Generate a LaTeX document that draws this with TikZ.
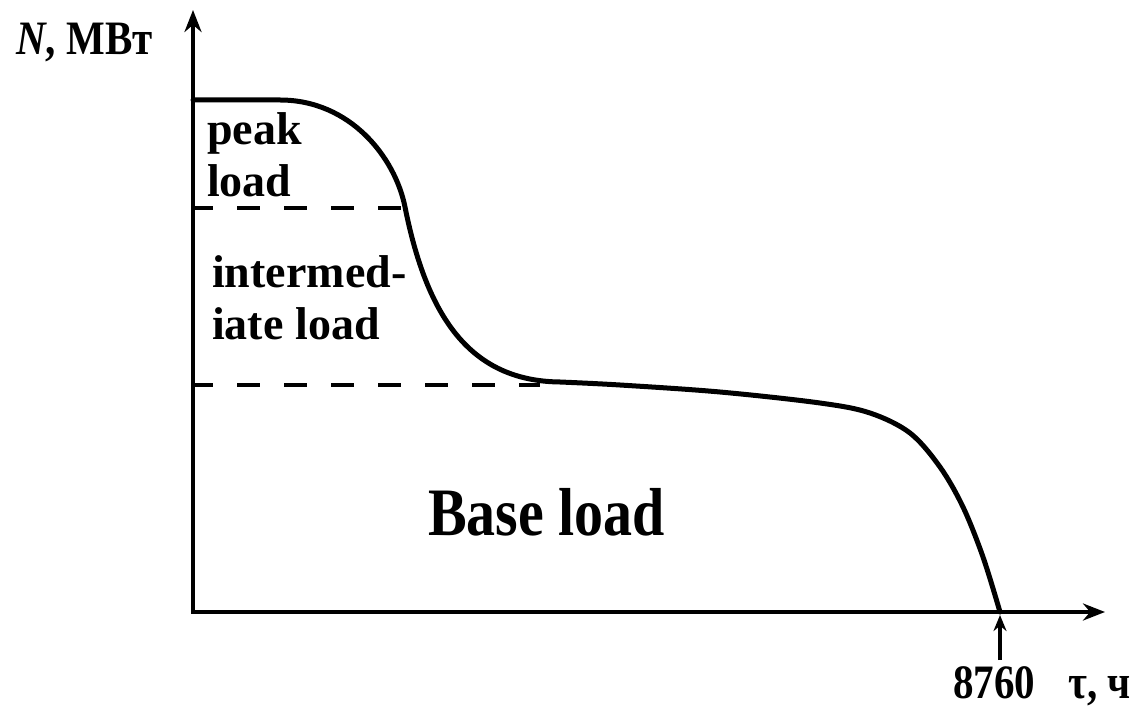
\documentclass[tikz,border=0pt]{standalone}
\usepackage{fontspec}
\usepackage{graphicx}
\setmainfont{Liberation Serif}
\usetikzlibrary{arrows.meta}
\tikzset{
  axisline/.style={line width=4pt,-{Stealth[length=22pt,width=17pt]}},
  curveline/.style={line width=5pt,line cap=round,line join=round},
  dashline/.style={line width=4pt,dash pattern=on 23pt off 24pt,dash phase=3pt},
  lbl/.style={anchor=base west,inner sep=0pt,font=\bfseries\fontsize{46}{50}\selectfont},
  biglbl/.style={anchor=base west,inner sep=0pt,font=\bfseries\fontsize{58}{60}\selectfont},
  axlbl/.style={anchor=base west,inner sep=0pt,font=\bfseries\fontsize{41}{45}\selectfont},
}
\begin{document}
\begin{tikzpicture}[x=1pt,y=-1pt]
\useasboundingbox (0,0) rectangle (1148,708);
\coordinate (O) at (193,612);
\coordinate (Ytip) at (193,10);
\coordinate (Xtip) at (1105,612);
\coordinate (P1) at (193,208);
\coordinate (P1e) at (403,208);
\coordinate (P2) at (193,385);
\coordinate (P2e) at (540,385);
\coordinate (Tb) at (1000,660);
\coordinate (Tt) at (1000,615);
\coordinate (C0) at (193,100);
\coordinate (C1) at (280,100);
\coordinate (C2) at (405,207);
\coordinate (C3) at (560,382);
% axes
\draw[axisline] (O) -- (Ytip);
\draw[axisline] ([xshift=-2pt]O) -- (Xtip);
% dashed
\draw[dashline] (P1) -- (P1e);
\draw[dashline] (P2) -- (P2e);
% curve
\draw[curveline] (C0) -- (C1)
  .. controls (350,100) and (395,157) .. (C2)
  .. controls (427,317) and (470,381) .. (C3)
  -- plot[smooth,tension=0.55] coordinates {
 (560,382) (620,385) (720,392) (820,403)
 (870,413) (910,433) (940,467) (963,507) (983,557) (1000,612)};
% small arrow
\draw[line width=4pt,-{Stealth[length=16pt,width=13pt]}] (Tb) -- (Tt);
% labels
\node[axlbl] (ylab) at (16,55) {\scalebox{1}[1.17]{\textit{N}, МВт}};
\node[lbl] (pk1) at (207,145) {peak};
\node[lbl] (pk2) at (207,197) {load};
\node[lbl] (im1) at (212,288) {intermed-};
\node[lbl] (im2) at (212,340) {iate load};
\node[biglbl] (base) at (428,535) {\scalebox{1}[1.17]{Base load}};
\node[axlbl] (n8760) at (953,698) {\scalebox{1}[1.17]{8760}};
\node[axlbl] (tau) at (1068,698) {\scalebox{1}[1.17]{τ, ч}};
\end{tikzpicture}
\end{document}
